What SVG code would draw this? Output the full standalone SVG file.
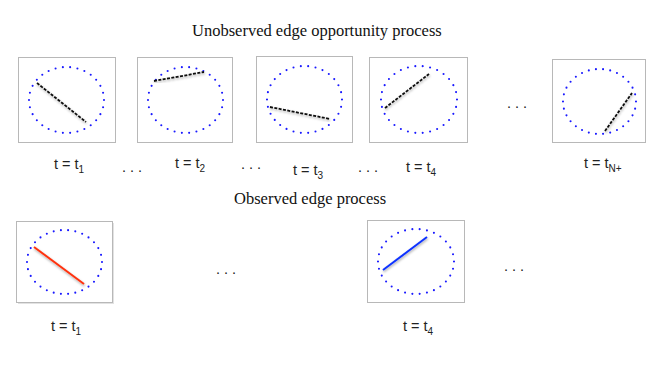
<svg xmlns="http://www.w3.org/2000/svg" width="664" height="374" viewBox="0 0 664 374">
<defs>
<filter id="sh" x="-20%" y="-20%" width="140%" height="140%">
<feDropShadow dx="0.5" dy="1.5" stdDeviation="1.2" flood-color="#000" flood-opacity="0.35"/>
</filter>
</defs>
<style>
.box{fill:#fff;stroke:#b8b8b8;stroke-width:1}
.ring{fill:none;stroke:#1a1aff;stroke-width:2.1;stroke-linecap:round;stroke-dasharray:0 1}
.opp{stroke:#111;stroke-width:1.8;stroke-dasharray:3 1.4;filter:url(#sh)}
.red{stroke:#ff3311;stroke-width:2;filter:url(#sh)}
.blue{stroke:#1133ff;stroke-width:2;filter:url(#sh)}
.lbl{font-family:"Liberation Sans",Arial,sans-serif;font-size:14.5px;fill:#222}
.sub{font-size:10px}
.ttl{font-family:"Liberation Serif","Times New Roman",serif;font-size:16.5px;fill:#111}
.dots{font-family:"Liberation Sans",Arial,sans-serif;font-size:14.5px;fill:#222}
</style>
<rect width="664" height="374" fill="#fff"/>
<text class="ttl" x="192" y="36">Unobserved edge opportunity process</text>
<text class="ttl" x="234" y="204">Observed edge process</text>

<g id="top1">
<rect class="box" x="18.5" y="57.5" width="97" height="85"/>
<ellipse class="ring" cx="66.5" cy="100" rx="37.5" ry="33" pathLength="30"/>
</g>
<g id="top2">
<rect class="box" x="137.5" y="57.5" width="95" height="85"/>
<ellipse class="ring" cx="185.5" cy="100" rx="37.5" ry="33" pathLength="30"/>
</g>
<g id="top3">
<rect class="box" x="256.5" y="56.5" width="96" height="86"/>
<ellipse class="ring" cx="304.5" cy="99.5" rx="37.5" ry="33.5" pathLength="30"/>
</g>
<g id="top4">
<rect class="box" x="369.5" y="57.5" width="98" height="85"/>
<ellipse class="ring" cx="419" cy="99.5" rx="38" ry="33.5" pathLength="30"/>
</g>
<g id="top5">
<rect class="box" x="552.5" y="59.5" width="93" height="83"/>
<ellipse class="ring" cx="599.5" cy="101.5" rx="36.5" ry="32.5" pathLength="30"/>
</g>
<g id="bot1">
<rect x="18" y="223" width="96" height="81" fill="#e2e2e2"/>
<rect class="box" x="16.5" y="221.5" width="96" height="81"/>
<ellipse class="ring" cx="64.5" cy="262" rx="37.5" ry="32" pathLength="30"/>
</g>
<g id="bot2">
<rect class="box" x="367.5" y="220.5" width="97" height="82"/>
<ellipse class="ring" cx="416" cy="261.5" rx="38" ry="32.5" pathLength="30"/>
</g>

<g id="edges">
<line class="opp" x1="37" y1="83" x2="86" y2="122"/>
<line class="opp" x1="154" y1="81" x2="204" y2="72"/>
<line class="opp" x1="270" y1="107" x2="330" y2="119"/>
<line class="opp" x1="385" y1="108" x2="429" y2="74"/>
<line class="opp" x1="605" y1="131" x2="632" y2="93"/>
<line class="red" x1="34" y1="247" x2="84" y2="284"/>
<line class="blue" x1="383" y1="270" x2="427" y2="237"/>
</g>

<g id="labels">
<text class="lbl" x="54" y="169">t = t<tspan class="sub" dy="4">1</tspan></text>
<text class="lbl" x="175" y="168">t = t<tspan class="sub" dy="4">2</tspan></text>
<text class="lbl" x="293" y="175">t = t<tspan class="sub" dy="4">3</tspan></text>
<text class="lbl" x="406" y="172">t = t<tspan class="sub" dy="4">4</tspan></text>
<text class="lbl" x="584" y="168">t = t<tspan class="sub" dy="4">N+</tspan></text>
<text class="lbl" x="51" y="331">t = t<tspan class="sub" dy="4">1</tspan></text>
<text class="lbl" x="403" y="331">t = t<tspan class="sub" dy="4">4</tspan></text>
<text class="dots" x="122" y="172">. . .</text>
<text class="dots" x="241" y="169">. . .</text>
<text class="dots" x="358" y="172">. . .</text>
<text class="dots" x="507" y="108">. . .</text>
<text class="dots" x="216" y="274">. . .</text>
<text class="dots" x="504" y="271">. . .</text>
</g>
</svg>
